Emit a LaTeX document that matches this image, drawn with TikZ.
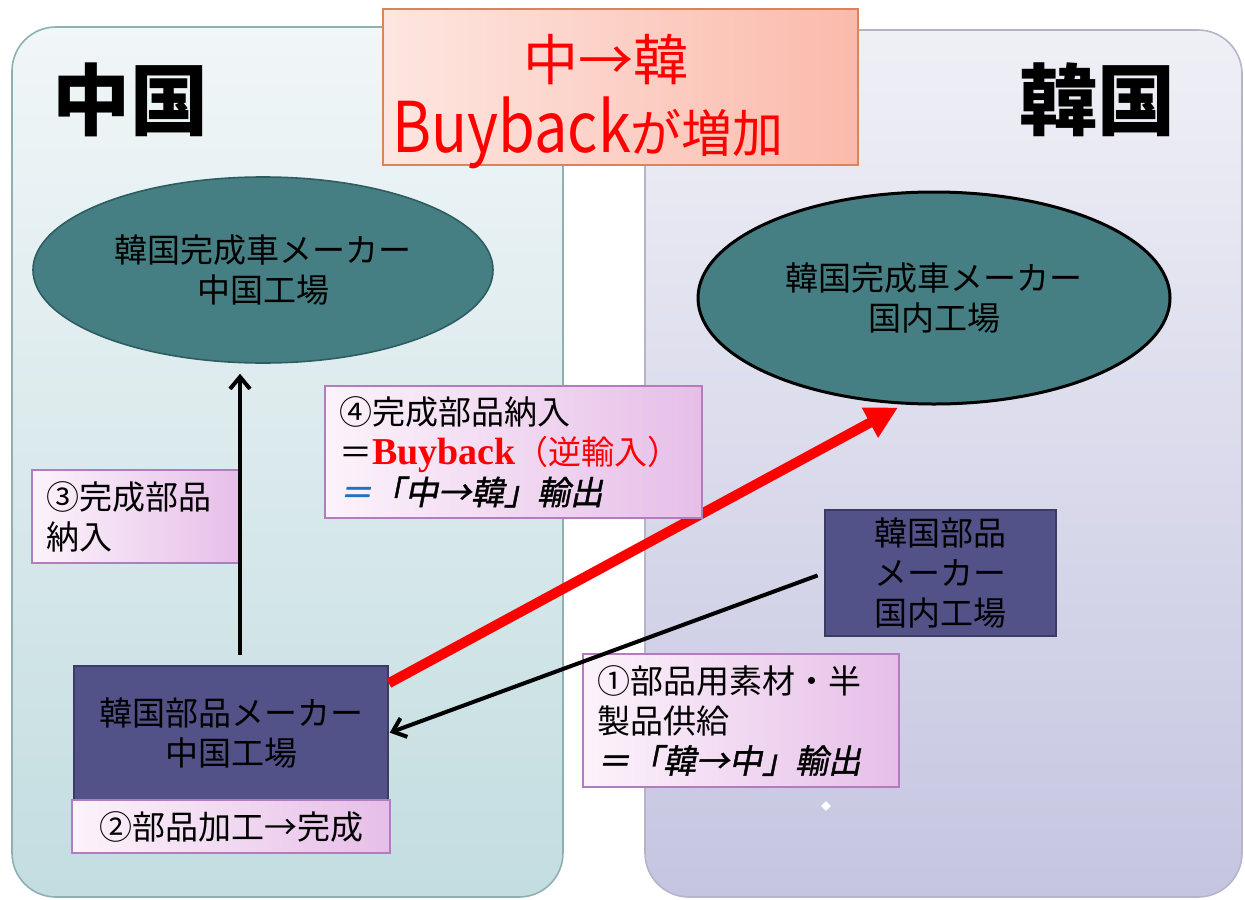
\documentclass[tikz,border=0pt]{standalone}
\usepackage{fontspec}
\usepackage{graphicx}
\setmainfont{Noto Sans CJK JP}
\newfontfamily\jpbi[FakeSlant=0.2,FakeBold=1.2]{Noto Sans CJK JP}
\newfontfamily\latser{Liberation Serif}
\newfontfamily\titlelat{Noto Sans CJK JP}
\usetikzlibrary{shapes.geometric,arrows.meta,calc}
\definecolor{panelLtop}{HTML}{F1F6F8}
\definecolor{panelLbot}{HTML}{C3DDE0}
\definecolor{panelLborder}{HTML}{8FB0B3}
\definecolor{panelRtop}{HTML}{EFF0F6}
\definecolor{panelRbot}{HTML}{C5C5E1}
\definecolor{panelRborder}{HTML}{B4B6C8}
\definecolor{titleL}{HTML}{FDE6E1}
\definecolor{titleR}{HTML}{FBBAAB}
\definecolor{titleborder}{HTML}{D7855E}
\definecolor{ellfill}{HTML}{457F83}
\definecolor{ellborder}{HTML}{2E5D60}
\definecolor{darkfill}{HTML}{525289}
\definecolor{darkborder}{HTML}{3B3B66}
\definecolor{pinkL}{HTML}{FCF3FB}
\definecolor{pinkR}{HTML}{E6BEE8}
\definecolor{pinkborder}{HTML}{B27CBE}
\definecolor{eqblue}{HTML}{2070C0}
\definecolor{redtxt}{HTML}{FF0000}
\newcommand\bodysize{\fontsize{16.5pt}{20pt}\selectfont}
\begin{document}
\begin{tikzpicture}[x=0.5pt,y=-0.5pt,
  pinkbox/.style={draw=pinkborder, line width=0.8pt, left color=pinkL, right color=pinkR,
    inner xsep=7pt, inner ysep=0pt, align=left, font=\bodysize},
  darkbox/.style={draw=darkborder, line width=0.8pt, fill=darkfill, align=center, inner sep=0pt, font=\bodysize},
  ellnode/.style={ellipse, fill=ellfill, inner sep=0pt, align=center, font=\bodysize},
  blkarrow/.style={draw=black, line width=2pt, -{Straight Barb[length=6pt,width=10pt,line width=2pt]}},
  redarrow/.style={draw=redtxt, line width=5pt, -{Triangle[length=16pt,width=16pt]}},
  country/.style={font=\fontsize{39pt}{42pt}\selectfont\bfseries}
]
\useasboundingbox (0,0) rectangle (1245,899);
% panels
\path[draw=panelLborder, line width=0.8pt, top color=panelLtop, bottom color=panelLbot, rounded corners=22pt]
  (12,27) rectangle (563,897);
\path[draw=panelRborder, line width=0.8pt, top color=panelRtop, bottom color=panelRbot, rounded corners=22pt]
  (645,30) rectangle (1242,897);
% title
\node[draw=titleborder, line width=0.8pt, left color=titleL, right color=titleR,
  minimum width=237.5pt, minimum height=78pt, inner sep=0pt] (title) at (620.5,87) {};
\node[text=redtxt, font=\fontsize{27.5pt}{30pt}\selectfont, inner sep=0pt] (t1) at (606,60) {中→韓};
\node[text=redtxt, inner sep=0pt, anchor=base] (t2) at (588,152)
  {\scalebox{0.85}[1]{\titlelat\fontsize{35pt}{40pt}\selectfont Buyback}{\fontsize{25.5pt}{30pt}\selectfont が増加}};
% country labels
\node[country] (cn) at (130,100) {中国};
\node[country] (kr) at (1097,100) {韓国};
% ellipses
\node[ellnode, draw=ellborder, line width=0.8pt, minimum width=230pt, minimum height=93pt] (ellL) at (263,270)
  {韓国完成車メーカー\\中国工場};
\node[ellnode, draw=black, line width=1.5pt, minimum width=236pt, minimum height=106pt] (ellR) at (934,298)
  {韓国完成車メーカー\\国内工場};
% boxes
\node[darkbox, minimum width=157pt, minimum height=67pt] (boxCN) at (231,733)
  {韓国部品メーカー\\中国工場};
\node[pinkbox, align=center, minimum width=159pt, minimum height=26.5pt] (box2) at (231,826.5)
  {②部品加工→完成};
\node[darkbox, minimum width=115.5pt, minimum height=63pt] (boxKR) at (940.5,573)
  {韓国部品\\メーカー\\国内工場};
\node[pinkbox, text width=144pt, minimum height=66.5pt] (box1) at (741,720.5)
  {①部品用素材・半\\製品供給\\{\jpbi ＝「韓→中」輸出}};
\node[pinkbox, text width=90pt, minimum height=46.5pt] (box3) at (136,516.5)
  {③完成部品\\納入};
% connectors
\draw[blkarrow, shorten <=5pt, shorten >=5pt] ([xshift=4.5pt]boxCN.north) -- ([xshift=4.5pt]boxCN.north |- ellL.south);
\draw[blkarrow, shorten <=3.5pt, shorten >=0.5pt] (boxKR.west) -- (boxCN.east);
\draw[redarrow] ([yshift=-9pt]boxCN.north east) -- ([xshift=-18pt,yshift=-1pt]ellR.south);
\node[pinkbox, text width=174.5pt, minimum height=66pt] (box4) at (513.5,452)
  {④完成部品納入\\＝{\color{redtxt}{\latser\bfseries\fontsize{19pt}{20pt}\selectfont Buyback}（逆輸入）}\\{\color{eqblue}\jpbi ＝}{\jpbi 「中→韓」輸出}};
% small diamond
\node[diamond, fill=white, inner sep=0pt, minimum size=5pt] (dot) at (826,806) {};
\end{tikzpicture}
\end{document}
